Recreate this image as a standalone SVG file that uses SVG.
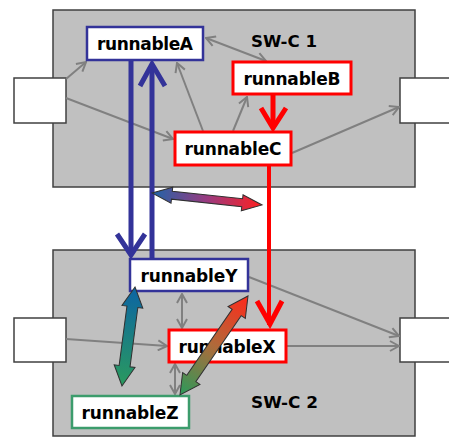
<svg xmlns="http://www.w3.org/2000/svg" width="449" height="439" viewBox="0 0 449 439">
<style>
.swc{fill:#c0c0c0;stroke:#404040;stroke-width:1.5}
.port{fill:#fff;stroke:#404040;stroke-width:1.5}
.rb{fill:#fff;stroke:#333399;stroke-width:2.5}
.rr{fill:#fff;stroke:#ff0000;stroke-width:3}
.rg{fill:#fff;stroke:#3c9c6c;stroke-width:2.5}
.lbl{font-family:"DejaVu Sans",Verdana,sans-serif;font-weight:bold;font-size:17px;fill:#000;text-anchor:middle}
.swl{font-family:"DejaVu Sans",Verdana,sans-serif;font-weight:bold;font-size:16px;fill:#000}
.ga{stroke:#808080;stroke-width:2;fill:none;marker-end:url(#gh)}
.gd{stroke:#808080;stroke-width:2;fill:none;marker-end:url(#gh);marker-start:url(#gh)}
.blue{stroke:#333399;stroke-width:5;fill:none;stroke-linejoin:miter}
.red{stroke:#ff0000;stroke-width:5;fill:none}
.fat{stroke:#303030;stroke-width:1}
</style>
<defs>
<marker id="gh" viewBox="0 0 12 12" refX="11" refY="6" markerWidth="12" markerHeight="12" markerUnits="userSpaceOnUse" orient="auto-start-reverse">
<path d="M2,1 L11,6 L2,11" stroke="#808080" stroke-width="2" fill="none"/>
</marker>
<linearGradient id="gBR" x1="0" y1="0" x2="1" y2="0"><stop offset="0" stop-color="#1f64a8"/><stop offset="0.5" stop-color="#9a3a80"/><stop offset="1" stop-color="#ff2020"/></linearGradient>
<linearGradient id="gBG" x1="0" y1="0" x2="1" y2="0"><stop offset="0" stop-color="#0c64a4"/><stop offset="1" stop-color="#2a9a5e"/></linearGradient>
<linearGradient id="gRG" x1="0" y1="0" x2="1" y2="0"><stop offset="0" stop-color="#ff2a1a"/><stop offset="0.5" stop-color="#b06a3a"/><stop offset="1" stop-color="#2a9a5a"/></linearGradient>
</defs>

<g id="swc1">
<rect class="swc" x="53" y="10" width="362" height="177"/>
<text class="swl" x="251" y="47" textLength="66" lengthAdjust="spacingAndGlyphs">SW-C 1</text>
</g>
<g id="swc2">
<rect class="swc" x="53" y="250" width="362" height="186"/>
<text class="swl" x="251" y="408" textLength="67" lengthAdjust="spacingAndGlyphs">SW-C 2</text>
</g>
<g id="port1L"><rect class="port" x="14" y="78" width="52" height="45"/></g>
<g id="port1R"><rect class="port" x="400" y="78" width="60" height="45"/></g>
<g id="port2L"><rect class="port" x="14" y="318" width="52" height="44"/></g>
<g id="port2R"><rect class="port" x="400" y="318" width="60" height="44"/></g>

<g id="connectors">
<line class="ga" x1="66" y1="79" x2="86" y2="62"/>
<line class="ga" x1="66" y1="98" x2="173" y2="139"/>
<line class="ga" x1="203" y1="131" x2="177" y2="63"/>
<line class="ga" x1="233" y1="131" x2="247" y2="97"/>
<line class="gd" x1="206" y1="38" x2="266" y2="61"/>
<line class="ga" x1="292" y1="153" x2="399" y2="107"/>
<line class="ga" x1="66" y1="339" x2="167" y2="346"/>
<line class="ga" x1="249" y1="277" x2="399" y2="336"/>
<line class="ga" x1="287" y1="346" x2="399" y2="346"/>
<line class="gd" x1="182" y1="294" x2="182" y2="328"/>
<line class="gd" x1="175" y1="364" x2="175" y2="394"/>

<line class="blue" x1="131" y1="61" x2="131" y2="254"/>
<polyline class="blue" points="117,234 131,255 145,234"/>
<line class="blue" x1="152" y1="259" x2="152" y2="64"/>
<polyline class="blue" points="140,86 152,64 165,86"/>

<line class="red" x1="273" y1="95" x2="273" y2="128"/>
<polyline class="red" points="261,108 273,128 286,108"/>
<line class="red" x1="269" y1="166" x2="269" y2="325" style="stroke-width:4"/>
<polyline class="red" points="257,301 270,324 282,301"/>
</g>

<g id="runnableA"><rect class="rb" x="87" y="27" width="116" height="33"/><text class="lbl" x="145" y="50" textLength="96" lengthAdjust="spacing">runnableA</text></g>
<g id="runnableB"><rect class="rr" x="233" y="62" width="118" height="32"/><text class="lbl" x="292" y="85" textLength="97" lengthAdjust="spacing">runnableB</text></g>
<g id="runnableC"><rect class="rr" x="175" y="132" width="116" height="33"/><text class="lbl" x="233" y="155" textLength="97" lengthAdjust="spacing">runnableC</text></g>
<g id="runnableY"><rect class="rb" x="130" y="259" width="118" height="32"/><text class="lbl" x="189" y="282" textLength="97" lengthAdjust="spacing">runnableY</text></g>
<g id="runnableX"><rect class="rr" x="169" y="330" width="117" height="32"/><text class="lbl" x="227" y="353" textLength="97" lengthAdjust="spacing">runnableX</text></g>
<g id="runnableZ"><rect class="rg" x="72" y="396" width="117" height="32"/><text class="lbl" x="130" y="419" textLength="97" lengthAdjust="spacing">runnableZ</text></g>

<g id="connectors-fat">
<path class="fat" fill="url(#gBR)" transform="translate(152,193) rotate(6.2)" d="M0,0 L20,-8 L20,-4 L90.7,-4 L90.7,-8 L110.7,0 L90.7,8 L90.7,4 L20,4 L20,8 Z"/>
<path class="fat" fill="url(#gBG)" transform="translate(135,287) rotate(97.5)" d="M0,0 L20,-10.5 L20,-5.5 L79.8,-5.5 L79.8,-10.5 L99.8,0 L79.8,10.5 L79.8,5.5 L20,5.5 L20,10.5 Z"/>
<path class="fat" fill="url(#gRG)" transform="translate(248,296) rotate(124.5)" d="M0,0 L20,-10.5 L20,-5.5 L100.1,-5.5 L100.1,-10.5 L120.1,0 L100.1,10.5 L100.1,5.5 L20,5.5 L20,10.5 Z"/>
</g>
</svg>
